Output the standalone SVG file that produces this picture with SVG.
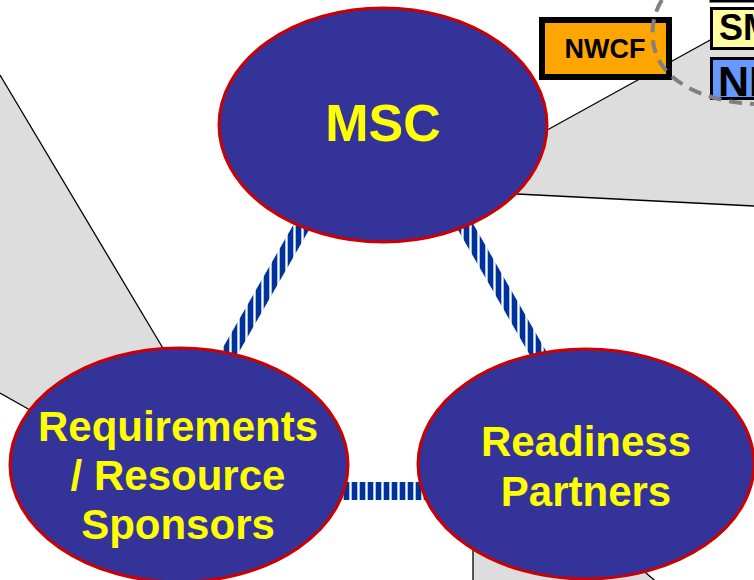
<svg xmlns="http://www.w3.org/2000/svg" width="754" height="580" viewBox="0 0 754 580">
<style>
.bg{fill:#FFFFFF}
.gray{fill:#DDDDDD;stroke:none}
.edge{stroke:#000000;stroke-width:1.3;fill:none}
.node{fill:#333399;stroke:#CC0000;stroke-width:3}
.lbl{font-family:"Liberation Sans",Arial,sans-serif;font-weight:bold;fill:#FFFF00;text-anchor:middle}
.box{font-family:"Liberation Sans",Arial,sans-serif;font-weight:bold;fill:#000000}
.band{fill:url(#stripe)}
</style>
<defs>
<pattern id="stripe" patternUnits="userSpaceOnUse" width="8" height="8">
<rect width="8" height="8" fill="#003399"/>
<rect x="5" width="3" height="8" fill="#A9BCE3"/>
<rect x="6" width="1" height="8" fill="#FFFFFF"/>
</pattern>
</defs>
<rect class="bg" width="754" height="580"/>
<g id="background-regions">
<polygon class="gray" points="0,75 165,352 28,409 0,393"/>
<line class="edge" x1="0" y1="75" x2="167" y2="355"/>
<line class="edge" x1="0" y1="393" x2="30" y2="410"/>
<polygon class="gray" points="548,130 710,40 754,40 754,206 517,194"/>
<line class="edge" x1="540" y1="134" x2="712" y2="39"/>
<line class="edge" x1="517" y1="194" x2="754" y2="206"/>
<polygon class="gray" points="473,540 620,552 660,584 473,584"/>
<line class="edge" x1="473" y1="540" x2="473" y2="580"/>
<line class="edge" x1="625" y1="555" x2="660" y2="585"/>
</g>
<g id="connectors">
<polygon class="band" points="307,201 321,209 216,392 202,384"/>
<polygon class="band" points="460,201 446,209 551,392 565,384"/>
<rect class="band" x="330" y="482" width="100" height="18"/>
</g>
<g id="node-msc">
<ellipse class="node" cx="383" cy="125" rx="164" ry="117"/>
<text class="lbl" x="383" y="141" font-size="52">MSC</text>
</g>
<g id="node-requirements">
<ellipse class="node" cx="179" cy="465" rx="169" ry="117"/>
<text class="lbl" x="178" y="441" font-size="42">Requirements</text>
<text class="lbl" x="178" y="490" font-size="42">/ Resource</text>
<text class="lbl" x="178" y="539" font-size="42">Sponsors</text>
</g>
<g id="node-readiness">
<ellipse class="node" cx="586" cy="464" rx="168" ry="115"/>
<text class="lbl" x="586" y="456" font-size="42">Readiness</text>
<text class="lbl" x="586" y="506" font-size="42">Partners</text>
</g>
<g id="node-top-box">
<rect x="711" y="-20" width="60" height="21" fill="#FFFFFF" stroke="#000000" stroke-width="3"/>
</g>
<g id="node-sm">
<rect x="711.5" y="8.5" width="60" height="40" fill="#FFFFA0" stroke="#000000" stroke-width="3"/>
<text class="box" x="719" y="40" font-size="36">SM</text>
</g>
<g id="node-nf">
<rect x="711.5" y="58.5" width="60" height="40" fill="#6699FF" stroke="#000000" stroke-width="3"/>
<text class="box" x="718" y="96" font-size="43">NF</text>
</g>
<g id="node-nwcf">
<rect x="542" y="20" width="127" height="57" fill="#FFA500" stroke="#000000" stroke-width="6"/>
<text class="box" x="605" y="58" font-size="27" text-anchor="middle">NWCF</text>
</g>
<g id="dashed-boundary">
<path d="M662,0 C650,18 648,48 664,68 C680,88 712,102 754,104" fill="none" stroke="#808080" stroke-width="4" stroke-dasharray="13,8"/>
</g>
</svg>
